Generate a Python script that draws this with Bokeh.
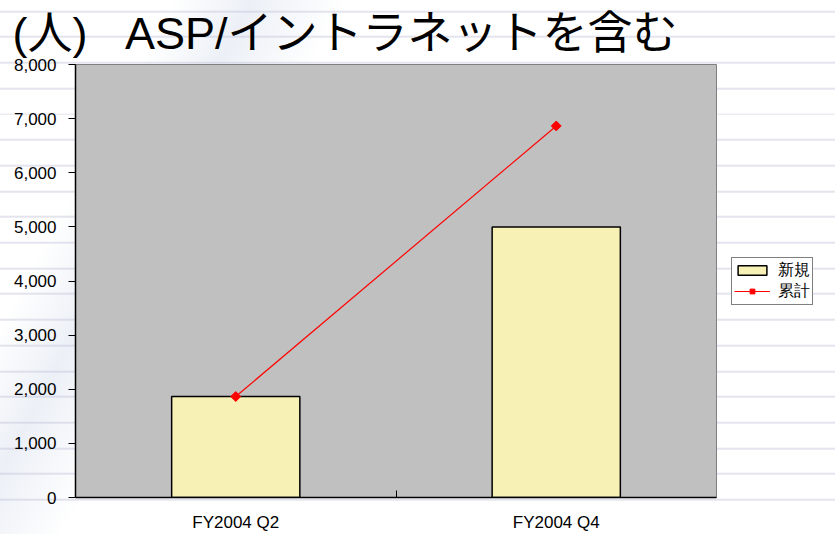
import math
from bokeh.plotting import figure
from bokeh.models import (Range1d, FixedTicker, NumeralTickFormatter,
                          Legend, LegendItem, ColumnDataSource)
from bokeh.embed import file_html
from bokeh.resources import INLINE

categories = ["FY2004 Q2", "FY2004 Q4"]
new_users = [1865, 5000]
cumulative = [1865, 6865]
y_ticks = [0, 1000, 2000, 3000, 4000, 5000, 6000, 7000, 8000]
title_unit = "(人)"
title_text = "ASP/イントラネットを含む"
legend_new = "新規"
legend_cum = "累計"

xs = [i + 0.5 for i in range(len(categories))]
src = ColumnDataSource(dict(x=xs, new=new_users, cum=cumulative))

W, H = 819, 532
FL, FR, FT, FB = 75, 716, 64, 497   # frame edges in px
FONT = "Liberation Sans, Noto Sans CJK JP"
p = figure(frame_width=FR - FL, frame_height=FB - FT,
           output_backend="svg", toolbar_location=None,
           x_range=Range1d(0, len(categories)), y_range=Range1d(0, 8000),
           min_border_left=FL, min_border_right=W - FR, min_border_top=FT,
           min_border_bottom=H - FB)
p.border_fill_color = None
p.background_fill_color = "#C0C0C0"
p.outline_line_color = "#808080"
p.outline_line_width = 1
p.xgrid.visible = False
p.ygrid.visible = False
p.styles = {
    "background-color": "white",
    "background-image": ("linear-gradient(118deg, rgba(180,195,220,0) 11%, "
                         "rgba(180,195,220,0.25) 16%, rgba(180,195,220,0) 22%), "
                         "repeating-linear-gradient(to bottom, rgba(255,255,255,0) 0px, "
                         "rgba(255,255,255,0) 23.7px, #E4E4EE 23.7px, #E4E4EE 25.7px)"),
    "background-position": "0 0, 0 -13.3px",
}

# title (one line; non-breaking spaces keep the gap)
p.title.text = title_unit + "\u00a0\u00a0\u00a0" + title_text
p.title.align = "left"
p.title.offset = 12 - FL
p.title.text_font = FONT
p.title.text_font_size = "45px"
p.title.text_font_style = "normal"
p.title.text_color = "black"
p.title.standoff = 11

bars = p.vbar(x="x", top="new", width=0.4, source=src,
              fill_color="#F7F1B5", line_color="black", line_width=1.5)
ln = p.line(x="x", y="cum", source=src, line_color="#FF0000", line_width=1.2)
mk = p.scatter(x="x", y="cum", source=src, marker="square", size=7,
               angle=math.pi / 4, fill_color="#FF0000", line_color="#FF0000")

# x axis
xa = p.xaxis[0]
xa.ticker = FixedTicker(ticks=xs, minor_ticks=[float(i) for i in range(1, len(categories))])
xa.major_label_overrides = {x: c for x, c in zip(xs, categories)}
xa.major_tick_in = 0
xa.major_tick_out = 0
xa.minor_tick_in = 7
xa.minor_tick_out = 0
xa.minor_tick_line_color = "black"
xa.axis_line_color = "black"
xa.axis_line_width = 1.5
xa.major_label_standoff = 15
xa.major_label_text_font = "Liberation Sans"
xa.major_label_text_font_size = "17px"
xa.major_label_text_color = "black"

ya = p.yaxis[0]
ya.ticker = FixedTicker(ticks=y_ticks)
ya.formatter = NumeralTickFormatter(format="0,0")
ya.major_tick_in = 0
ya.major_tick_out = 7
ya.minor_tick_in = 0
ya.minor_tick_out = 0
ya.major_tick_line_color = "black"
ya.axis_line_color = "black"
ya.axis_line_width = 1.5
ya.major_label_standoff = 12
ya.major_label_text_font = "Liberation Sans"
ya.major_label_text_font_size = "17px"
ya.major_label_text_color = "black"

legend = Legend(items=[LegendItem(label=legend_new, renderers=[bars]),
                       LegendItem(label=legend_cum, renderers=[ln, mk])],
                location="left")
legend.label_text_font = "Liberation Sans"
legend.label_text_font_size = "16px"
legend.label_text_color = "black"
legend.label_height = 14
legend.glyph_width = 36
legend.glyph_height = 12
legend.spacing = 0
legend.padding = 2
legend.margin = 15
legend.label_standoff = 8
legend.border_line_color = "black"
legend.border_line_width = 1
legend.background_fill_color = "white"
legend.background_fill_alpha = 1
p.add_layout(legend, "right")

open("out.html", "w").write(file_html(p, INLINE))
